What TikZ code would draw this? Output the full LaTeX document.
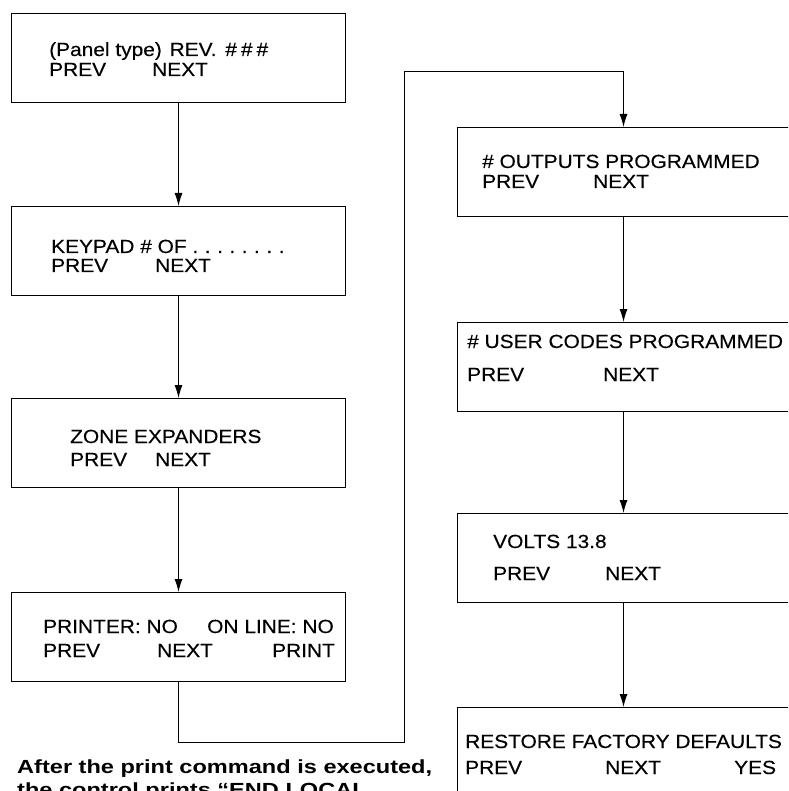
\documentclass[tikz,border=0pt]{standalone}
\usepackage{fontspec}
\setmainfont{Liberation Sans}[FakeStretch=1.1,FakeBold=0.3]
\newfontfamily\notefont{Liberation Sans}[FakeStretch=1.24]
\usetikzlibrary{arrows.meta}

\begin{document}
\begin{tikzpicture}[x=1pt,y=-1pt,
	screen/.style={shape=rectangle,draw=black,line width=1pt,anchor=north west,inner sep=0pt,minimum width=334pt,minimum height=89pt},
	rscreen/.style={screen,minimum width=332pt},
	lbl/.style={anchor=base west,inner sep=0pt,font=\fontsize{19}{22}\selectfont},
	note/.style={anchor=base west,inner sep=0pt,font=\notefont\bfseries\fontsize{19}{22}\selectfont},
	flow/.style={line width=1pt,-{Latex[length=13pt,width=8pt]}}]
	\useasboundingbox (0,0) rectangle (788,791);
	\clip (0,0) rectangle (788,791);

	% left column
	\node [screen] (Rev) at (11,13) {};
	\node [screen] (Key) at (11,206) {};
	\node [screen] (Zone) at (11,398) {};
	\node [screen] (Prt) at (11,592) {};

	% right column
	\node [rscreen] (Out) at (457,127) {};
	\node [rscreen] (User) at (457,322) {};
	\node [rscreen] (Volt) at (457,513) {};
	\node [rscreen] (Rst) at (457,707) {};

	% screen texts
	\node [lbl] (Rev-a) at (49,56) {(Panel type)\kern2pt{} REV.\kern3pt{} \#\kern4pt\#\kern4pt\#};
	\node [lbl] (Rev-p) at (49,76) {PREV};
	\node [lbl] (Rev-n) at (152,76) {NEXT};

	\node [lbl] (Key-a) at (51,253) {KEYPAD \# OF .\kern6.5pt.\kern6.5pt.\kern6.5pt.\kern6.5pt.\kern6.5pt.\kern6.5pt.\kern6.5pt.};
	\node [lbl] (Key-p) at (51,272) {PREV};
	\node [lbl] (Key-n) at (155,272) {NEXT};

	\node [lbl] (Zone-a) at (70,443) {ZONE EXPANDERS};
	\node [lbl] (Zone-p) at (70,466) {PREV};
	\node [lbl] (Zone-n) at (155,466) {NEXT};

	\node [lbl] (Prt-a) at (43,633) {PRINTER: NO};
	\node [lbl] (Prt-b) at (207,633) {ON LINE: NO};
	\node [lbl] (Prt-p) at (43,657) {PREV};
	\node [lbl] (Prt-n) at (157,657) {NEXT};
	\node [lbl] (Prt-x) at (272,657) {PRINT};

	\node [lbl] (Out-a) at (482,168) {\# OUTPUTS PROGRAMMED};
	\node [lbl] (Out-p) at (482,188) {PREV};
	\node [lbl] (Out-n) at (593,188) {NEXT};

	\node [lbl] (User-a) at (467,348) {\# USER CODES PROGRAMMED};
	\node [lbl] (User-p) at (467,381) {PREV};
	\node [lbl] (User-n) at (603,381) {NEXT};

	\node [lbl] (Volt-a) at (493,548) {VOLTS 13.8};
	\node [lbl] (Volt-p) at (493,580) {PREV};
	\node [lbl] (Volt-n) at (605,580) {NEXT};

	\node [lbl] (Rst-a) at (465,748) {RESTORE FACTORY DEFAULTS};
	\node [lbl] (Rst-p) at (465,774) {PREV};
	\node [lbl] (Rst-n) at (605,774) {NEXT};
	\node [lbl] (Rst-y) at (734,774) {YES};

	% note under the left column
	\node [note] (Note-a) at (17,773) {After the print command is executed,};
	\node [note] (Note-b) at (17,796) {the control prints “END LOCAL};

	\path [flow] (Rev) edge (Key);
	\path [flow] (Key) edge (Zone);
	\path [flow] (Zone) edge (Prt);
	\path [flow] (Out) edge (User);
	\path [flow] (User) edge (Volt);
	\path [flow] (Volt) edge (Rst);

	\coordinate (c1) at (404,742);
	\coordinate (c2) at (404,72);
	\draw [flow] (Prt) |- (c1) -- (c2) -| (Out);
\end{tikzpicture}
\end{document}
